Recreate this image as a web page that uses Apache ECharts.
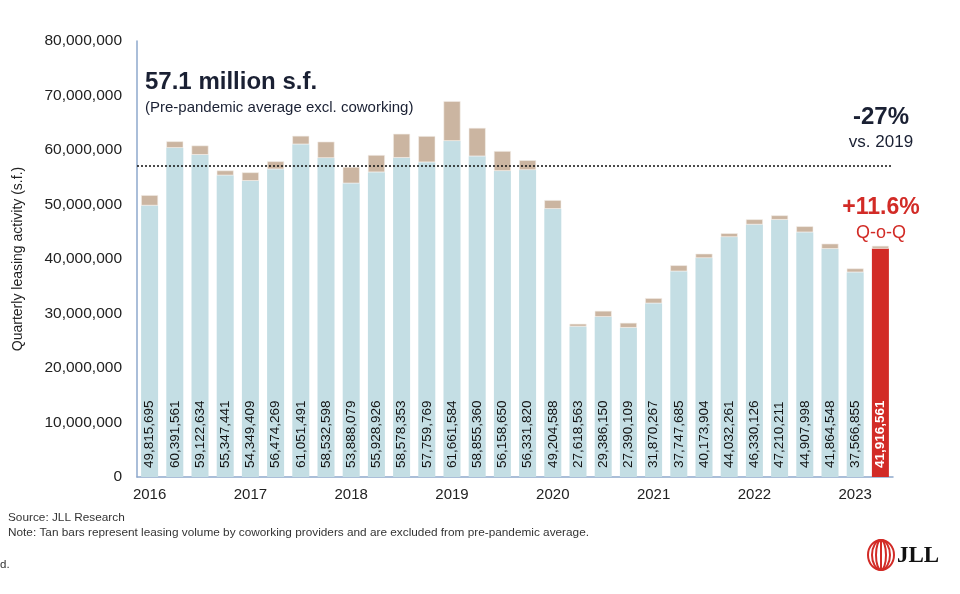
<!DOCTYPE html>
<html>
<head>
<meta charset="utf-8">
<script src="https://cdn.jsdelivr.net/npm/echarts@6/dist/echarts.min.js"></script>
<style>html,body{margin:0;padding:0;background:#fff}#c{width:960px;height:594px}</style>
</head>
<body>
<div id="c"></div>
<script>
const quarters = [
  '2016 Q1','2016 Q2','2016 Q3','2016 Q4',
  '2017 Q1','2017 Q2','2017 Q3','2017 Q4',
  '2018 Q1','2018 Q2','2018 Q3','2018 Q4',
  '2019 Q1','2019 Q2','2019 Q3','2019 Q4',
  '2020 Q1','2020 Q2','2020 Q3','2020 Q4',
  '2021 Q1','2021 Q2','2021 Q3','2021 Q4',
  '2022 Q1','2022 Q2','2022 Q3','2022 Q4',
  '2023 Q1','2023 Q2'
];
const leasingExclCoworking = [
  49815695, 60391561, 59122634, 55347441,
  54349409, 56474269, 61051491, 58532598,
  53888079, 55928926, 58578353, 57759769,
  61661584, 58855360, 56158650, 56331820,
  49204588, 27618563, 29386150, 27390109,
  31870267, 37747685, 40173904, 44032261,
  46330126, 47210211, 44907998, 41864548,
  37566855, 41916561
];
const coworking = [
  1900000, 1200000, 1700000, 900000,
  1550000, 1450000, 1550000, 3000000,
  3000000, 3150000, 4400000, 4800000,
  7300000, 5200000, 3650000, 1800000,
  1600000, 500000, 1100000, 900000,
  950000, 1100000, 800000, 700000,
  950000, 800000, 1100000, 950000,
  700000, 500000
];
const prePandemicAvg = 57100000;
const yTicks = [0, 10000000, 20000000, 30000000, 40000000, 50000000, 60000000, 70000000, 80000000];

const BLUE = '#c4dee4', TAN = '#cbb5a1', RED = '#d22b26';
const fmt = v => Number(v).toLocaleString('en-US');
const lastIdx = leasingExclCoworking.length - 1;

const chart = echarts.init(document.getElementById('c'));
chart.setOption({
  animation: false,
  textStyle: { fontFamily: 'Liberation Sans, Arial, sans-serif' },
  grid: { left: 137, right: 67, top: 41, bottom: 117 },
  xAxis: {
    type: 'category',
    data: quarters,
    axisLine: { lineStyle: { color: '#8ea9cc', width: 1.5 } },
    axisTick: { show: false },
    axisLabel: {
      interval: 0, color: '#222', fontSize: 15, margin: 10,
      formatter: v => v.endsWith('Q1') ? v.slice(0, 4) : ''
    }
  },
  yAxis: {
    type: 'value',
    min: yTicks[0], max: yTicks[yTicks.length - 1], interval: yTicks[1] - yTicks[0],
    name: 'Quarterly leasing activity (s.f.)',
    nameLocation: 'middle', nameGap: 112,
    nameTextStyle: { color: '#222', fontSize: 14 },
    axisLine: { show: true, lineStyle: { color: '#8ea9cc', width: 1.5 } },
    axisTick: { show: false },
    splitLine: { show: false },
    axisLabel: { color: '#222', fontSize: 15.5, margin: 15, formatter: v => fmt(v) }
  },
  series: [
    {
      type: 'bar', stack: 'total', barWidth: 17,
      data: leasingExclCoworking.map((v, i) => i === lastIdx
        ? { value: v, itemStyle: { color: RED }, label: { color: '#fff', fontWeight: 'bold' } }
        : v),
      itemStyle: { color: BLUE },
      label: {
        show: true, position: 'insideBottom', rotate: 90, align: 'left', verticalAlign: 'middle',
        distance: 9, fontSize: 13.5, color: '#111', formatter: p => fmt(p.value)
      },
      markLine: {
        silent: true, symbol: 'none', label: { show: false },
        lineStyle: { color: '#111', type: [2, 2], width: 1.5 },
        data: [{ yAxis: prePandemicAvg }]
      }
    },
    {
      type: 'bar', stack: 'total', barWidth: 17,
      data: coworking,
      itemStyle: { color: TAN, borderColor: '#f4efe9', borderWidth: 0.6 }
    }
  ],
  graphic: [
    { type: 'text', left: 145, top: 70, style: { text: '57.1 million s.f.', font: 'bold 24px Liberation Sans, Arial', fill: '#1a2033' } },
    { type: 'text', left: 145, top: 100, style: { text: '(Pre-pandemic average excl. coworking)', font: '15px Liberation Sans, Arial', fill: '#1a2033' } },
    { type: 'text', x: 881, y: 117, style: { text: '-27%', font: 'bold 24px Liberation Sans, Arial', fill: '#1a2033', align: 'center', verticalAlign: 'middle' } },
    { type: 'text', x: 881, y: 142, style: { text: 'vs. 2019', font: '17px Liberation Sans, Arial', fill: '#1a2033', align: 'center', verticalAlign: 'middle' } },
    { type: 'text', x: 881, y: 208, style: { text: '+11.6%', font: 'bold 23px Liberation Sans, Arial', fill: RED, align: 'center', verticalAlign: 'middle' } },
    { type: 'text', x: 881, y: 233, style: { text: 'Q-o-Q', font: '18px Liberation Sans, Arial', fill: RED, align: 'center', verticalAlign: 'middle' } },
    { type: 'text', left: 8, top: 512, style: { text: 'Source: JLL Research', font: '11.8px Liberation Sans, Arial', fill: '#333' } },
    { type: 'text', left: 8, top: 527, style: { text: 'Note: Tan bars represent leasing volume by coworking providers and are excluded from pre-pandemic average.', font: '11.8px Liberation Sans, Arial', fill: '#333' } },
    { type: 'text', left: 0, top: 559, style: { text: 'd.', font: '11.5px Liberation Sans, Arial', fill: '#333' } },
    { type: 'group', x: 881, y: 555, children: [
      { type: 'ellipse', shape: { cx: 0, cy: 0, rx: 13, ry: 15 }, style: { fill: 'none', stroke: RED, lineWidth: 2 } },
      { type: 'ellipse', shape: { cx: 0, cy: 0, rx: 9, ry: 15 }, style: { fill: 'none', stroke: RED, lineWidth: 2 } },
      { type: 'ellipse', shape: { cx: 0, cy: 0, rx: 5, ry: 15 }, style: { fill: 'none', stroke: RED, lineWidth: 2 } },
      { type: 'line', shape: { x1: 0, y1: -15, x2: 0, y2: 15 }, style: { stroke: RED, lineWidth: 2 } }
    ] },
    { type: 'text', left: 897, top: 545, style: { text: 'JLL', font: 'bold 23px Liberation Serif, DejaVu Serif, serif', fill: '#111' } }
  ]
});
</script>
</body>
</html>
